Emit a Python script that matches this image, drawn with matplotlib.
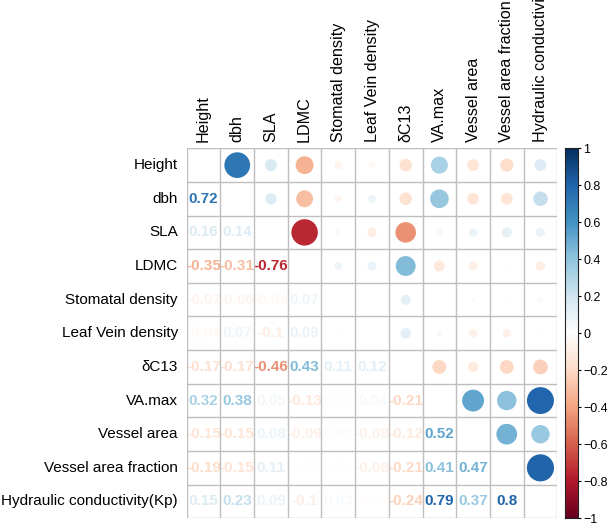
import numpy as np
import matplotlib
matplotlib.use("Agg")
import matplotlib.pyplot as plt
from matplotlib.colors import LinearSegmentedColormap
from matplotlib.patches import Circle

plt.rcParams['font.family'] = ['Liberation Sans', 'DejaVu Sans']

variables = ["Height", "dbh", "SLA", "LDMC", "Stomatal density", "Leaf Vein density",
             "δC13", "VA.max", "Vessel area", "Vessel area fraction",
             "Hydraulic conductivity(Kp)"]

# lower-triangle correlations, row by row
row_dbh = [0.72]
row_sla = [0.16, 0.14]
row_ldmc = [-0.35, -0.31, -0.76]
row_stomatal = [-0.07, -0.06, -0.04, 0.07]
row_leafvein = [-0.04, 0.07, -0.10, 0.09, 0.00]
row_dc13 = [-0.17, -0.17, -0.46, 0.43, 0.11, 0.12]
row_vamax = [0.32, 0.38, 0.05, -0.13, 0.01, 0.04, -0.21]
row_vessel = [-0.15, -0.15, 0.08, -0.09, 0.02, -0.08, -0.12, 0.52]
row_vfrac = [-0.19, -0.15, 0.11, -0.02, 0.01, -0.08, -0.21, 0.41, 0.47]
row_kp = [0.15, 0.23, 0.09, -0.10, 0.03, -0.02, -0.24, 0.79, 0.37, 0.80]

lower_rows = [[], row_dbh, row_sla, row_ldmc, row_stomatal, row_leafvein, row_dc13,
              row_vamax, row_vessel, row_vfrac, row_kp]

cbar_ticks = [-1, -0.8, -0.6, -0.4, -0.2, 0, 0.2, 0.4, 0.6, 0.8, 1]

n = len(variables)
corr = np.eye(n)
for i, r in enumerate(lower_rows):
    for j, v in enumerate(r):
        corr[i, j] = v
        corr[j, i] = v

cols = ["#67001F", "#B2182B", "#D6604D", "#F4A582", "#FDDBC7", "#FFFFFF",
        "#D1E5F0", "#92C5DE", "#4393C3", "#2166AC", "#053061"]
cmap = LinearSegmentedColormap.from_list("corrRdBu", cols, N=200)

W, H = 608, 525
fig = plt.figure(figsize=(W / 100, H / 100), dpi=100)

gl, gr, gt, gb = 186.7, 557.3, 148.3, 518.3
ax = fig.add_axes([gl / W, (H - gb) / H, (gr - gl) / W, (gb - gt) / H])
ax.set_xlim(0, n)
ax.set_ylim(n, 0)
ax.set_axis_off()

def fmt(v):
    s = ("%.2f" % v).rstrip("0").rstrip(".")
    if s in ("-0", ""):
        s = "0"
    return s

for i in range(n):
    for j in range(n):
        v = corr[i, j]
        c = cmap((v + 1) / 2)
        if j > i:
            r = 0.45 * np.sqrt(abs(v))
            if r > 0:
                ax.add_patch(Circle((j + 0.5, i + 0.5), r, facecolor=c, edgecolor='none', zorder=2))
        elif j < i:
            ax.text(j + 0.5, i + 0.5, fmt(v), ha='center', va='center', fontsize=11,
                    fontweight='bold', color=c, zorder=3)

for k in range(n + 1):
    ax.plot([k, k], [0, n], color='#BEBEBE', lw=1.0, zorder=4, solid_capstyle='butt')
    ax.plot([0, n], [k, k], color='#BEBEBE', lw=1.0, zorder=4, solid_capstyle='butt')

for i, name in enumerate(variables):
    ax.text(-0.26, i + 0.5, name, ha='right', va='center', fontsize=11, color='black')
    ax.text(i + 0.5, -0.2, name, ha='center', va='bottom', rotation=90, fontsize=11.6,
            color='black', rotation_mode='default')

# colorbar
cl, cr = 565, 578
cax = fig.add_axes([cl / W, (H - gb) / H, (cr - cl) / W, (gb - gt) / H])
grad = np.linspace(1, -1, 400).reshape(-1, 1)
cax.imshow(grad, aspect='auto', cmap=cmap, vmin=-1, vmax=1, extent=[0, 1, -1, 1])
cax.set_xticks([])
cax.yaxis.tick_right()
cax.set_yticks(cbar_ticks)
cax.set_yticklabels([("%g" % t).replace("-", "\u2212") for t in cbar_ticks], fontsize=9)
cax.tick_params(axis='y', length=2.5, width=0.8, pad=1.5, colors='black')
for s in cax.spines.values():
    s.set_linewidth(0.8)
    s.set_color('#222222')

fig.savefig("out.png", dpi=100)
